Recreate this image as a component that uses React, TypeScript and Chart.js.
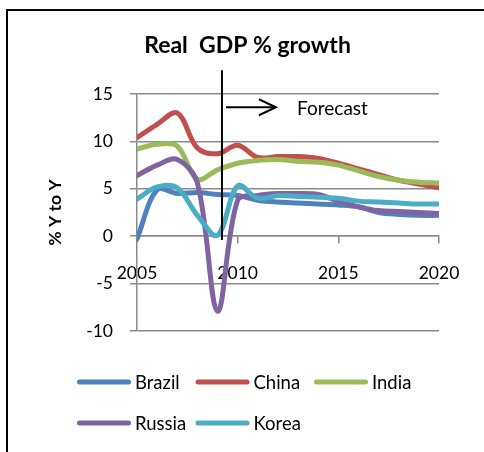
import React, { useEffect, useRef } from "react";
import { Chart, registerables } from "chart.js";

Chart.register(...registerables);

// ---- data ----
const YEARS = [2005, 2006, 2007, 2008, 2009, 2010, 2011, 2012, 2013, 2014, 2015, 2016, 2017, 2018, 2019, 2020];
const BRAZIL = [-0.3, 4.9, 4.5, 4.6, 4.4, 4.3, 3.8, 3.6, 3.5, 3.4, 3.3, 3.1, 2.5, 2.3, 2.2, 2.2];
const CHINA = [10.4, 11.8, 13.0, 9.3, 8.7, 9.6, 8.3, 8.4, 8.4, 8.2, 7.7, 7.1, 6.5, 5.9, 5.5, 5.1];
const INDIA = [9.2, 9.7, 9.5, 6.0, 7.0, 7.7, 8.0, 8.1, 7.9, 7.8, 7.5, 6.9, 6.3, 5.9, 5.7, 5.6];
const RUSSIA = [6.4, 7.5, 8.1, 5.6, -7.9, 3.8, 4.3, 4.5, 4.5, 4.4, 3.7, 3.1, 2.7, 2.6, 2.5, 2.4];
const KOREA = [3.9, 5.2, 5.1, 2.2, 0.1, 5.3, 4.0, 4.3, 4.2, 4.1, 4.0, 3.7, 3.6, 3.5, 3.4, 3.4];

const SERIES_NAMES = ["Brazil", "China", "India", "Russia", "Korea"];
const SERIES_VALUES = [BRAZIL, CHINA, INDIA, RUSSIA, KOREA];
const SERIES_COLORS = ["#4F81BD", "#C0504D", "#9BBB59", "#8064A2", "#4BACC6"];

const Y_MIN = -10;
const Y_MAX = 15;
const Y_STEP = 5;
const X_MIN = 2005;
const X_MAX = 2020;
const X_STEP = 5;

const TITLE = "Real  GDP % growth";
const Y_TITLE = "% Y to Y";
const FORECAST_LABEL = "Forecast";
const FORECAST_START = 2009.22; // year where the forecast divider sits
const DIVIDER_TOP = 17.5;
const DIVIDER_BOTTOM = -0.4;
const ARROW_FROM = 2009.42;
const ARROW_TO = 2011.9;
const ARROW_LEVEL = 13.6;
const LABEL_YEAR = 2012.95;
const LABEL_LEVEL = 13.4;

const GRID = "#8a8a8a";
const FONT = "Lato, 'Noto Sans', sans-serif";

const forecastPlugin = {
  id: "forecastMarks",
  afterDatasetsDraw(chart: any) {
    const { ctx, scales } = chart;
    const x = scales.x;
    const y = scales.y;
    ctx.save();
    ctx.strokeStyle = "#000";
    ctx.lineWidth = 2;
    // divider
    const px = x.getPixelForValue(FORECAST_START);
    ctx.beginPath();
    ctx.moveTo(px, y.getPixelForValue(DIVIDER_TOP));
    ctx.lineTo(px, y.getPixelForValue(DIVIDER_BOTTOM));
    ctx.stroke();
    // arrow
    const ay = y.getPixelForValue(ARROW_LEVEL);
    const a0 = x.getPixelForValue(ARROW_FROM);
    const a1 = x.getPixelForValue(ARROW_TO);
    ctx.beginPath();
    ctx.moveTo(a0, ay);
    ctx.lineTo(a1, ay);
    ctx.stroke();
    ctx.beginPath();
    ctx.moveTo(a1 - 17, ay - 8);
    ctx.lineTo(a1, ay);
    ctx.lineTo(a1 - 17, ay + 8);
    ctx.stroke();
    // label
    ctx.fillStyle = "#000";
    ctx.font = `19px ${FONT}`;
    ctx.textAlign = "left";
    ctx.textBaseline = "middle";
    ctx.fillText(FORECAST_LABEL, x.getPixelForValue(LABEL_YEAR), y.getPixelForValue(LABEL_LEVEL));
    ctx.restore();
  },
};

const legendPlugin = {
  id: "gridLegend",
  afterDraw(chart: any) {
    const { ctx } = chart;
    const datasets = chart.data.datasets;
    const left = 77;
    const colW = 118.5;
    const row0 = 382;
    const rowGap = 41;
    const perRow = 3;
    ctx.save();
    ctx.font = `18.5px ${FONT}`;
    ctx.textAlign = "left";
    ctx.textBaseline = "middle";
    datasets.forEach((ds: any, i: number) => {
      const col = i % perRow;
      const row = Math.floor(i / perRow);
      const x = left + col * colW;
      const yy = row0 + row * rowGap;
      ctx.strokeStyle = ds.borderColor;
      ctx.lineWidth = 5;
      ctx.lineCap = "round";
      ctx.beginPath();
      ctx.moveTo(x + 2.5, yy);
      ctx.lineTo(x + 51.5, yy);
      ctx.stroke();
      ctx.fillStyle = "#000";
      ctx.fillText(ds.label, x + 58, yy + 1);
    });
    ctx.restore();
  },
};

export default function App() {
  const ref = useRef<HTMLCanvasElement | null>(null);

  useEffect(() => {
    if (!ref.current) return;
    Chart.defaults.font.family = FONT;
    Chart.defaults.color = "#000";
    const datasets = SERIES_NAMES.map((name, i) => ({
      label: name,
      data: YEARS.map((yr, j) => ({ x: yr, y: SERIES_VALUES[i][j] })),
      borderColor: SERIES_COLORS[i],
      backgroundColor: SERIES_COLORS[i],
      borderWidth: 5,
      pointRadius: 0,
      pointHoverRadius: 0,
      tension: 0.35,
      fill: false,
      borderCapStyle: "round" as const,
      borderJoinStyle: "round" as const,
      order: SERIES_NAMES.length - i,
    }));

    const chart = new Chart(ref.current, {
      type: "line",
      data: { datasets },
      plugins: [forecastPlugin, legendPlugin],
      options: {
        responsive: false,
        animation: false,
        devicePixelRatio: 1,
        layout: { padding: { left: 56, right: 45, top: 0, bottom: 121 } },
        plugins: {
          legend: { display: false },
          tooltip: { enabled: false },
          title: {
            display: true,
            text: TITLE,
            color: "#000",
            font: { family: FONT, size: 23, weight: "bold", lineHeight: 1.2 },
            padding: { top: 32.2, bottom: 34.2 },
          },
        },
        scales: {
          x: {
            type: "linear",
            position: { y: 0 } as any,
            min: X_MIN,
            max: X_MAX,
            grid: {
              drawOnChartArea: false,
              drawTicks: true,
              tickLength: 7,
              color: GRID,
              lineWidth: 1.5,
            },
            border: { display: true, color: GRID, width: 1.5 },
            ticks: {
              stepSize: X_STEP,
              autoSkip: false,
              maxRotation: 0,
              padding: 20,
              color: "#000",
              font: { family: FONT, size: 17.5 },
              callback: (v: any) => String(v),
            },
          },
          y: {
            type: "linear",
            min: Y_MIN,
            max: Y_MAX,
            afterFit: (s: any) => {
              s.width = 81;
            },
            grid: {
              drawOnChartArea: true,
              drawTicks: true,
              tickLength: 7,
              color: GRID,
              lineWidth: 1.5,
            },
            border: { display: true, color: GRID, width: 1.5 },
            ticks: {
              stepSize: Y_STEP,
              padding: 17,
              color: "#000",
              font: { family: FONT, size: 17.5 },
              callback: (v: any) => String(v),
            },
            title: {
              display: true,
              text: Y_TITLE,
              color: "#000",
              font: { family: FONT, size: 17.5, weight: "bold", lineHeight: 1.2 },
              padding: { top: -11.5, bottom: 0 },
            },
          },
        },
      },
    } as any);
    return () => chart.destroy();
  }, []);

  return (
    <div
      style={{
        position: "fixed",
        left: 0,
        top: 0,
        width: 484,
        height: 452,
        overflow: "hidden",
        background: "#fff",
      }}
    >
      <div
        style={{
          position: "absolute",
          left: 6,
          top: 9,
          width: 600,
          height: 600,
          borderTop: "2px solid #000",
          borderLeft: "2px solid #000",
        }}
      />
      <canvas
        ref={ref}
        width={484}
        height={452}
        style={{ position: "absolute", left: 0, top: 0, width: 484, height: 452 }}
      />
    </div>
  );
}
